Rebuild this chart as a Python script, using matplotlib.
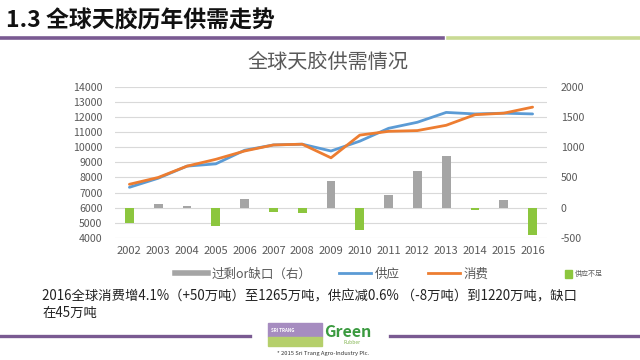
import matplotlib
matplotlib.use("Agg")
import matplotlib.pyplot as plt
from matplotlib.lines import Line2D
from matplotlib.patches import Rectangle, Patch

plt.rcParams["font.family"] = ["Noto Sans CJK SC", "DejaVu Sans"]
plt.rcParams["axes.unicode_minus"] = False

# data (千吨)
years = ["2002", "2003", "2004", "2005", "2006", "2007", "2008", "2009",
         "2010", "2011", "2012", "2013", "2014", "2015", "2016"]
supply = [7350, 7950, 8750, 8900, 9800, 10150, 10200, 9750,
          10400, 11250, 11650, 12300, 12200, 12250, 12200]
consumption = [7550, 8000, 8750, 9200, 9750, 10150, 10200, 9300,
               10800, 11050, 11100, 11450, 12150, 12250, 12650]
balance = [-250, 70, 30, -300, 140, -70, -90, 440,
           -360, 210, 600, 850, -40, 130, -450]

GRAY, BLUE, ORANGE, GREEN = "#a5a5a5", "#5b9bd5", "#ed7d31", "#8cc63e"
TXT = "#595959"
W, H = 640, 360

fig = plt.figure(figsize=(6.4, 3.6), dpi=100)
fig.patch.set_facecolor("white")

# header
fig.text(6 / W, 1 - 21 / H, "1.3 全球天胶历年供需走势", fontsize=16.5, fontweight="bold",
         color="#111111", ha="left", va="center")
fig.add_artist(Line2D([0, 443 / W], [1 - 38 / H] * 2, color="#7a5a92", lw=2.6))
fig.add_artist(Line2D([448 / W, 1], [1 - 38 / H] * 2, color="#c9da94", lw=2.6))
fig.text(328 / W, 1 - 62 / H, "全球天胶供需情况", fontsize=14.5, color=TXT,
         ha="center", va="center")

# chart
x = list(range(len(years)))
ax2 = fig.add_axes([115 / W, 1 - 238 / H, 432 / W, 151.3 / H])
ax = ax2.twinx()
ax.yaxis.tick_left()
ax2.yaxis.tick_right()
ax2.set_zorder(1)
ax.set_zorder(2)
ax.patch.set_visible(False)

bar_cols = [GRAY if v >= 0 else GREEN for v in balance]
ax2.bar(x, balance, width=0.3, color=bar_cols, zorder=3)
ax2.set_ylim(-500, 2000)
ax2.set_yticks(range(-500, 2001, 500))
ax2.set_yticks(range(-500, 2001, 250), minor=True)
ax2.grid(True, which="both", axis="y", color="#d9d9d9", lw=0.8, zorder=0)
ax2.set_axisbelow(True)

ax.plot(x, supply, color=BLUE, lw=2.0, solid_capstyle="round")
ax.plot(x, consumption, color=ORANGE, lw=2.0, solid_capstyle="round")
ax.set_ylim(4000, 14000)
ax.set_yticks(range(4000, 14001, 1000))
ax.set_xlim(-0.5, len(years) - 0.5)
ax2.set_xlim(-0.5, len(years) - 0.5)
ax2.set_xticks(x)
ax2.set_xticklabels(years)

for a in (ax, ax2):
    for s in a.spines.values():
        s.set_visible(False)
    a.tick_params(which="both", length=0, colors=TXT, labelsize=7.6)
ax.tick_params(axis="y", pad=9)
ax2.tick_params(axis="y", pad=10)
ax2.tick_params(axis="x", pad=6, labelsize=8)

# legend
handles = [Line2D([], [], color=GRAY, lw=4),
           Line2D([], [], color=BLUE, lw=2),
           Line2D([], [], color=ORANGE, lw=2)]
labels = ["过剩or缺口（右）", "供应", "消费"]
fig.legend(handles, labels, loc="center", bbox_to_anchor=(332 / W, 1 - 274 / H),
           ncol=3, frameon=False, fontsize=9, labelcolor=TXT, handlelength=2.6,
           handletextpad=0.3, columnspacing=2.2)
fig.legend([Patch(color=GREEN)], ["供应不足"], loc="center",
           bbox_to_anchor=(584 / W, 1 - 274 / H), frameon=False, fontsize=5,
           labelcolor=TXT, handlelength=1.0, handleheight=1.6, handletextpad=0.4)

# note
fig.text(42 / W, 1 - 296 / H,
         "2016全球消费增4.1%（+50万吨）至1265万吨，供应减0.6% （-8万吨）到1220万吨，缺口",
         fontsize=9.6, color="#222222", ha="left", va="center")
fig.text(42 / W, 1 - 313 / H, "在45万吨", fontsize=9.6, color="#222222",
         ha="left", va="center")

# footer
fig.add_artist(Line2D([0, 250 / W], [1 - 336 / H] * 2, color="#7a5a92", lw=2.4))
fig.add_artist(Line2D([390 / W, 1], [1 - 336 / H] * 2, color="#7a5a92", lw=2.4))
fig.add_artist(Rectangle((268 / W, 1 - 337 / H), 54 / W, 14 / H,
                         transform=fig.transFigure, color="#a68cc0"))
fig.add_artist(Rectangle((268 / W, 1 - 346 / H), 54 / W, 9 / H,
                         transform=fig.transFigure, color="#b5cf6b"))
fig.text(283 / W, 1 - 330 / H, "SRI TRANG", fontsize=3.2, color="white",
         fontweight="bold", ha="center", va="center")
fig.text(348 / W, 1 - 332 / H, "Green", fontsize=11.5, fontweight="bold",
         color="#3a9a3f", ha="center", va="center")
fig.text(352 / W, 1 - 343 / H, "Rubber", fontsize=3.5, color="#7fb24a",
         ha="center", va="center")
fig.text(323 / W, 1 - 353 / H, "* 2015 Sri Trang Agro-Industry Plc.", fontsize=4.2,
         color="#333333", ha="center", va="center")

fig.savefig("out.png", dpi=100, facecolor="white")
